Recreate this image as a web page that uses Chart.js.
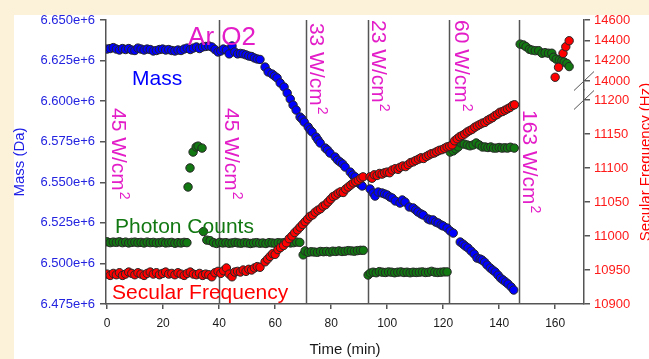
<!DOCTYPE html>
<html><head><meta charset="utf-8">
<script src="https://cdn.jsdelivr.net/npm/chart.js@4.4.0/dist/chart.umd.min.js"></script>
<style>html,body{margin:0;padding:0;background:#fff;overflow:hidden}canvas{display:block}</style>
</head><body><canvas id="c" width="649" height="359"></canvas>
<script>
// ---------- DATA ----------
const massTime = [0,1.1,2.2,3.3,4.4,5.5,6.6,7.7,8.8,9.9,11.0,12.1,13.2,14.3,15.4,16.5,17.6,18.7,19.8,20.9,22.0,23.1,24.2,25.3,26.4,27.5,28.6,29.7,30.8,31.9,33.0,34.1,35.2,36.3,37.4,38.5,39.6,40.6,41.5,42.6,43.6,44.6,45.6,46.6,47.6,48.6,49.6,50.6,51.6,52.6,53.6,54.6,
 56.4,57.5,58.9,59.8,60.7,61.8,63.2,64.3,65.4,66.4,67.5,68.9,69.6,70.4,71.8,72.5,73.2,74.6,75.3,76.1,77.9,78.7,79.6,81.4,82.3,83.2,84.1,85.0,86.8,87.7,88.6,89.6,90.3,91.1,
 93.9,95.0,95.7,96.8,98.2,99.1,100.0,101.0,101.8,102.9,104.6,105.4,106.4,107.9,109.3,110.2,111.0,112.1,112.9,114.6,115.4,116.4,117.3,118.2,119.3,120.0,121.4,122.5,123.6,
 126.1,127.1,127.9,128.9,130.0,131.1,132.1,133.2,133.9,134.8,135.7,136.8,137.7,138.6,139.6,140.5,141.4,142.3,143.2,144.3,145.2];
const massValues = [6632100,6632400,6633000,6632100,6631500,6632400,6631800,6632400,6631500,6631200,6632700,6632100,6631500,6632100,6631800,6630900,6631200,6631800,6632100,6631500,6631800,6631200,6630900,6631500,6631200,6632100,6632700,6631800,6632700,6633400,6632400,6633400,6633700,6634000,6633400,6631800,6630300,6630900,6632100,6631500,6629100,6634000,6630300,6629100,6629400,6629100,6628500,6627800,6627500,6626600,6626000,6625700,
 6621000,6618000,6616700,6615500,6614300,6611200,6608700,6605000,6601300,6597600,6594500,6590200,6589000,6587100,6584100,6582300,6581000,6577900,6576100,6574200,6571100,6569900,6568000,6565600,6563700,6562500,6561300,6559400,6556300,6554500,6553300,6550200,6548900,6547700,
 6545900,6543400,6541500,6544000,6543400,6542800,6542200,6540900,6540300,6538500,6537200,6539100,6537800,6534800,6534200,6532900,6531700,6530500,6529800,6527400,6526800,6526800,6525500,6524900,6523700,6523100,6521800,6520000,6518700,
 6513200,6511900,6510700,6509500,6507600,6505800,6503300,6502700,6502100,6500800,6499000,6497200,6495900,6494700,6492800,6491000,6489800,6488600,6487300,6485500,6483600];

const freqTime = [0,1.1,2.2,3.3,4.4,5.5,6.6,7.7,8.8,9.9,11.0,12.1,13.2,14.3,15.4,16.5,17.6,18.7,19.8,20.9,22.0,23.1,24.2,25.3,26.4,27.5,28.6,29.7,30.8,31.9,33.0,34.1,35.2,36.3,37.4,38.5,39.6,40.6,41.6,42.6,43.6,44.6,45.6,46.6,47.6,48.6,49.6,50.6,51.6,52.6,53.6,54.6,
 56.4,57.3,58.2,59.1,60.0,61.0,61.9,63.0,64.0,65.0,66.0,67.0,68.0,68.9,69.8,70.7,71.6,72.5,73.4,74.3,75.3,76.2,77.1,78.0,78.9,79.8,80.7,81.6,82.5,83.4,84.3,85.2,86.1,87.0,87.9,88.8,89.7,90.6,91.4,
 93.9,94.6,95.4,96.4,97.3,98.2,99.1,100.0,100.9,101.8,102.9,103.9,104.6,105.6,106.6,107.5,108.4,109.3,110.2,111.2,112.1,113.0,114.0,114.9,115.8,116.8,117.7,118.6,119.6,120.5,121.4,122.3,123.2,
 124.1,125.0,125.9,126.8,127.7,128.6,129.5,130.4,131.3,132.2,133.1,134.0,134.9,135.8,136.7,137.6,138.5,139.4,140.3,141.2,142.1,143.0,143.9,144.8,145.5];
const freqValues = [10944,10942,10945,10943,10946,10942,10944,10947,10945,10943,10946,10944,10942,10945,10947,10944,10946,10943,10945,10947,10944,10945,10943,10946,10944,10942,10945,10947,10944,10943,10945,10942,10944,10943,10940,10946,10948,10945,10949,10953,10944,10940,10947,10948,10947,10950,10948,10951,10950,10953,10955,10954,
 10962,10966,10970,10974,10973,10980,10983,10986,10990,10996,11000,11005,11009,11013,11017,11021,11025,11029,11031,11035,11038,11040,11044,11046,11050,11054,11058,11060,11063,11065,11064,11069,11072,11075,11078,11080,11082,11085,11087,
 11087,11085,11090,11089,11092,11091,11093,11094,11093,11097,11099,11098,11101,11103,11102,11105,11108,11109,11111,11113,11115,11114,11117,11119,11121,11122,11124,11126,11127,11129,11131,11132,11134,
 11140,11143,11146,11148,11150,11153,11155,11157,11160,11162,11164,11166,11167,11170,11172,11174,11177,11179,11182,11183,11185,11187,11189,11192,11193];
const freqHighTime = [160.0,161.2,162.8,163.8,165.0];
const freqHighValues = [14037,14135,14272,14337,14396];

// photon counts (arbitrary units, no axis shown)
const photonTime = [0,1.1,2.2,3.3,4.4,5.5,6.6,7.7,8.8,9.9,11.0,12.1,13.2,14.3,15.4,16.5,17.6,18.7,19.8,20.9,22.0,23.1,24.2,25.3,26.4,27.5,28.5,
 28.9,29.6,30.7,31.8,32.5,33.9,34.4,35.6,36.8,
 38.0,39.1,40.2,41.3,42.4,43.5,44.6,45.7,46.8,47.9,49.0,50.1,51.2,52.3,53.4,54.5,55.6,56.7,57.8,58.9,60.0,61.1,62.2,63.3,64.4,65.5,66.6,67.7,68.8,
 70.0,70.7,71.8,72.9,74.0,75.1,76.2,77.3,78.4,79.5,80.6,81.7,82.8,83.9,85.0,86.1,87.2,88.3,89.4,90.5,91.5,
 93.2,94.0,95.0,96.1,97.2,98.3,99.4,100.5,101.6,102.7,103.8,104.9,106.0,107.1,108.2,109.3,110.4,111.5,112.6,113.7,114.8,115.9,117.0,118.1,119.2,120.3,121.4,
 122.5,123.6,124.5,125.4,126.4,127.5,128.6,129.6,130.7,131.8,132.9,134.0,135.0,136.0,137.0,138.0,139.0,140.0,141.0,142.0,143.0,144.0,145.4,
 147.5,148.7,149.6,150.8,151.7,152.9,154.1,155.3,156.4,157.6,158.8,159.4,160.4,161.5,162.4,163.2,164.2,165.0];
const photonValues = [21.9,21.6,21.8,21.7,21.9,21.6,21.8,21.5,21.7,21.8,21.6,21.7,21.5,21.8,21.6,21.7,21.5,21.6,21.8,21.5,21.6,21.7,21.4,21.6,21.5,21.7,21.6,
 41.2,47.9,53.5,55.3,55.6,54.9,25.5,22.5,22.3,
 21.6,21.3,21.7,21.5,21.6,21.4,21.5,21.7,21.5,21.4,21.6,21.5,21.3,21.5,21.6,21.4,21.5,21.3,21.6,21.5,21.4,21.6,21.5,21.6,21.7,21.5,21.6,21.8,21.7,
 17.3,18.7,18.2,18.4,18.3,18.2,18.5,18.4,18.5,18.3,18.6,18.5,18.7,18.5,18.6,18.8,18.7,18.6,18.8,18.9,18.9,
 10.2,10.9,11.2,11.0,11.4,11.2,11.1,11.3,11.2,11.0,11.2,11.3,11.1,11.2,11.0,11.2,11.1,11.2,11.3,11.1,11.2,11.5,11.2,11.1,11.2,11.3,11.3,
 53.5,53.9,54.6,55.3,56.7,56.3,56.0,55.7,56.0,56.7,56.0,55.3,55.3,55.1,55.3,54.9,54.9,55.1,54.9,55.0,54.9,55.2,54.9,
 91.5,91.2,90.6,89.7,89.4,89.2,89.2,88.3,88.5,88.3,88.3,86.9,86.2,85.9,85.6,85.2,84.7,83.6];

const timeTicks = [0,20,40,60,80,100,120,140,160];
const massTicks = [6475000,6500000,6525000,6550000,6575000,6600000,6625000,6650000];
const freqLowTicks = [10900,10950,11000,11050,11100,11150,11200];
const freqHighTicks = [14000,14200,14400,14600];
const phaseLines = [40,71.0,93.2,122.1,147.2];

// annotations: text, time position, mass position (top start for rotated)
const powerTexts = ['45 W/cm','45 W/cm','33 W/cm','23 W/cm','60 W/cm','163 W/cm'];
const powerTimes = [1.75,42.1,72.5,94.6,124.2,148.5];
const powerMass = [6595800,6595800,6648200,6650000,6650000,6594500];

// ---------- CHART ----------
const F = '"Liberation Sans", Arial, sans-serif';
const AX = '#555555';
const BLUE = '#0000ff', RED = '#ff0000', GREEN = '#127812', MAG = '#e31ec8';
const zip = (a,b) => a.map((t,i)=>({x:t,y:b[i]}));
const setTicks = arr => s => { s.ticks = arr.map(v=>({value:v})); };

const bgPlugin = {
  id:'bg',
  beforeDraw(chart){
    const c = chart.ctx;
    c.save();
    c.fillStyle = '#fcf2da';
    c.fillRect(0,0,chart.width,chart.height);
    c.fillStyle = '#ffffff';
    c.fillRect(14,15,chart.width-14,chart.height-15);
    c.restore();
  }
};
const linesPlugin = {
  id:'lines',
  beforeDatasetsDraw(chart){
    const c = chart.ctx, a = chart.chartArea, xs = chart.scales.x;
    c.save();
    c.strokeStyle = AX; c.lineWidth = 1.5;
    phaseLines.forEach(t=>{
      const x = Math.round(xs.getPixelForValue(t))+0.5;
      c.beginPath(); c.moveTo(x,a.top); c.lineTo(x,a.bottom); c.stroke();
    });
    c.restore();
  }
};
const textPlugin = {
  id:'texts',
  afterDatasetsDraw(chart){
    const c = chart.ctx, xs = chart.scales.x, ys = chart.scales.y, a = chart.chartArea;
    c.save();
    powerTexts.forEach((txt,i)=>{
      const x = xs.getPixelForValue(powerTimes[i]);
      const y = ys.getPixelForValue(powerMass[i]);
      c.save();
      c.translate(x,y);
      c.rotate(Math.PI/2);
      c.fillStyle = MAG;
      c.textBaseline = 'alphabetic';
      c.textAlign = 'left';
      c.font = '21px ' + F;
      c.fillText(txt,0,0);
      const w = c.measureText(txt).width;
      c.font = '14px ' + F;
      c.fillText('2',w+1,-8);
      c.restore();
    });
    const label = (txt,t,m,size,color) => {
      c.font = size+'px '+F; c.fillStyle = color;
      c.textAlign='left'; c.textBaseline='alphabetic';
      c.fillText(txt, xs.getPixelForValue(t), ys.getPixelForValue(m));
    };
    label('Ar O2',28.9,6634600,26,MAG);
    label('Mass',8.9,6609950,21,BLUE);
    label('Photon Counts',2.8,6518750,21,GREEN);
    label('Secular Frequency',1.75,6478080,21,RED);
    c.save();
    c.translate(650,(a.top+a.bottom)/2);
    c.rotate(-Math.PI/2);
    c.font = '15px '+F; c.fillStyle = RED; c.textAlign='center'; c.textBaseline='alphabetic';
    c.fillText('Secular Frequency (Hz)',0,0);
    c.restore();
    const yt = chart.scales.yTop.getPixelForValue(14000);
    const yl = chart.scales.yLow.getPixelForValue(11200);
    const xr = a.right;
    c.strokeStyle = AX; c.lineWidth = 1;
    [yt,yl].forEach(yy=>{
      c.beginPath(); c.moveTo(xr-10,yy+9.5); c.lineTo(xr+10,yy-9.5); c.stroke();
    });
    c.restore();
  }
};

const pt = (color) => ({backgroundColor:color, borderColor:'#262626', borderWidth:1, pointRadius:4.2, showLine:false});

new Chart(document.getElementById('c'), {
  type:'scatter',
  data:{datasets:[
    Object.assign({label:'Secular Frequency', data:zip(freqTime,freqValues), yAxisID:'yLow', order:0}, pt(RED)),
    Object.assign({label:'Secular Frequency (high)', data:zip(freqHighTime,freqHighValues), yAxisID:'yTop', order:0}, pt(RED)),
    Object.assign({label:'Mass', data:zip(massTime,massValues), yAxisID:'y', order:1}, pt(BLUE)),
    Object.assign({label:'Photon Counts', data:zip(photonTime,photonValues), yAxisID:'yP', order:2}, pt(GREEN))
  ]},
  options:{
    responsive:false, animation:false, devicePixelRatio:1,
    layout:{padding:{top:20,left:0,right:0,bottom:0}},
    plugins:{legend:{display:false}, tooltip:{enabled:false}},
    scales:{
      x:{type:'linear', position:'bottom', min:-0.4, max:170.3,
        afterBuildTicks:setTicks(timeTicks), afterFit:s=>{s.height=55;},
        grid:{display:true, drawOnChartArea:false, drawTicks:true, tickLength:5, color:AX, lineWidth:1.5},
        border:{display:true, color:AX, width:1.5},
        ticks:{color:'#1a1a1a', font:{family:F,size:12}, padding:7, maxRotation:0, autoSkip:false, callback:v=>String(v)},
        title:{display:true, text:'Time (min)', color:'#1a1a1a', font:{family:F,size:15}, padding:{top:0,bottom:0}}},
      y:{type:'linear', position:'left', min:6475000, max:6650000,
        afterBuildTicks:setTicks(massTicks), afterFit:s=>{s.width=106;},
        grid:{display:true, drawOnChartArea:false, drawTicks:true, tickLength:6, color:AX, lineWidth:1.5},
        border:{display:true, color:AX, width:1.5},
        ticks:{color:'#2323e0', font:{family:F,size:13}, padding:5, autoSkip:false, callback:v=>(v/1e6).toFixed(3)+'e+6'},
        title:{display:true, text:'Mass (Da)', color:'#1f1fe6', font:{family:F,size:15}, padding:{top:11,bottom:0}}},
      yTop:{type:'linear', position:'right', stack:'freq', stackWeight:70, min:13911.7, max:14600,
        afterBuildTicks:setTicks(freqHighTicks), afterFit:s=>{s.width=65;},
        grid:{display:true, drawOnChartArea:false, drawTicks:true, tickLength:6, color:AX, lineWidth:1.5},
        border:{display:true, color:AX, width:1.5},
        ticks:{color:'#ff1a1a', font:{family:F,size:13}, padding:4, autoSkip:false, callback:v=>String(v)}},
      yLow:{type:'linear', position:'right', stack:'freq', stackWeight:214, min:10900, max:11214.7,
        afterBuildTicks:setTicks(freqLowTicks), afterFit:s=>{s.width=65;},
        grid:{display:true, drawOnChartArea:false, drawTicks:true, tickLength:6, color:AX, lineWidth:1.5},
        border:{display:true, color:AX, width:1.5},
        ticks:{color:'#ff1a1a', font:{family:F,size:13}, padding:4, autoSkip:false, callback:v=>String(v)}},
      yP:{type:'linear', display:false, min:0, max:100}
    }
  },
  plugins:[bgPlugin, linesPlugin, textPlugin]
});
</script>
</body></html>
